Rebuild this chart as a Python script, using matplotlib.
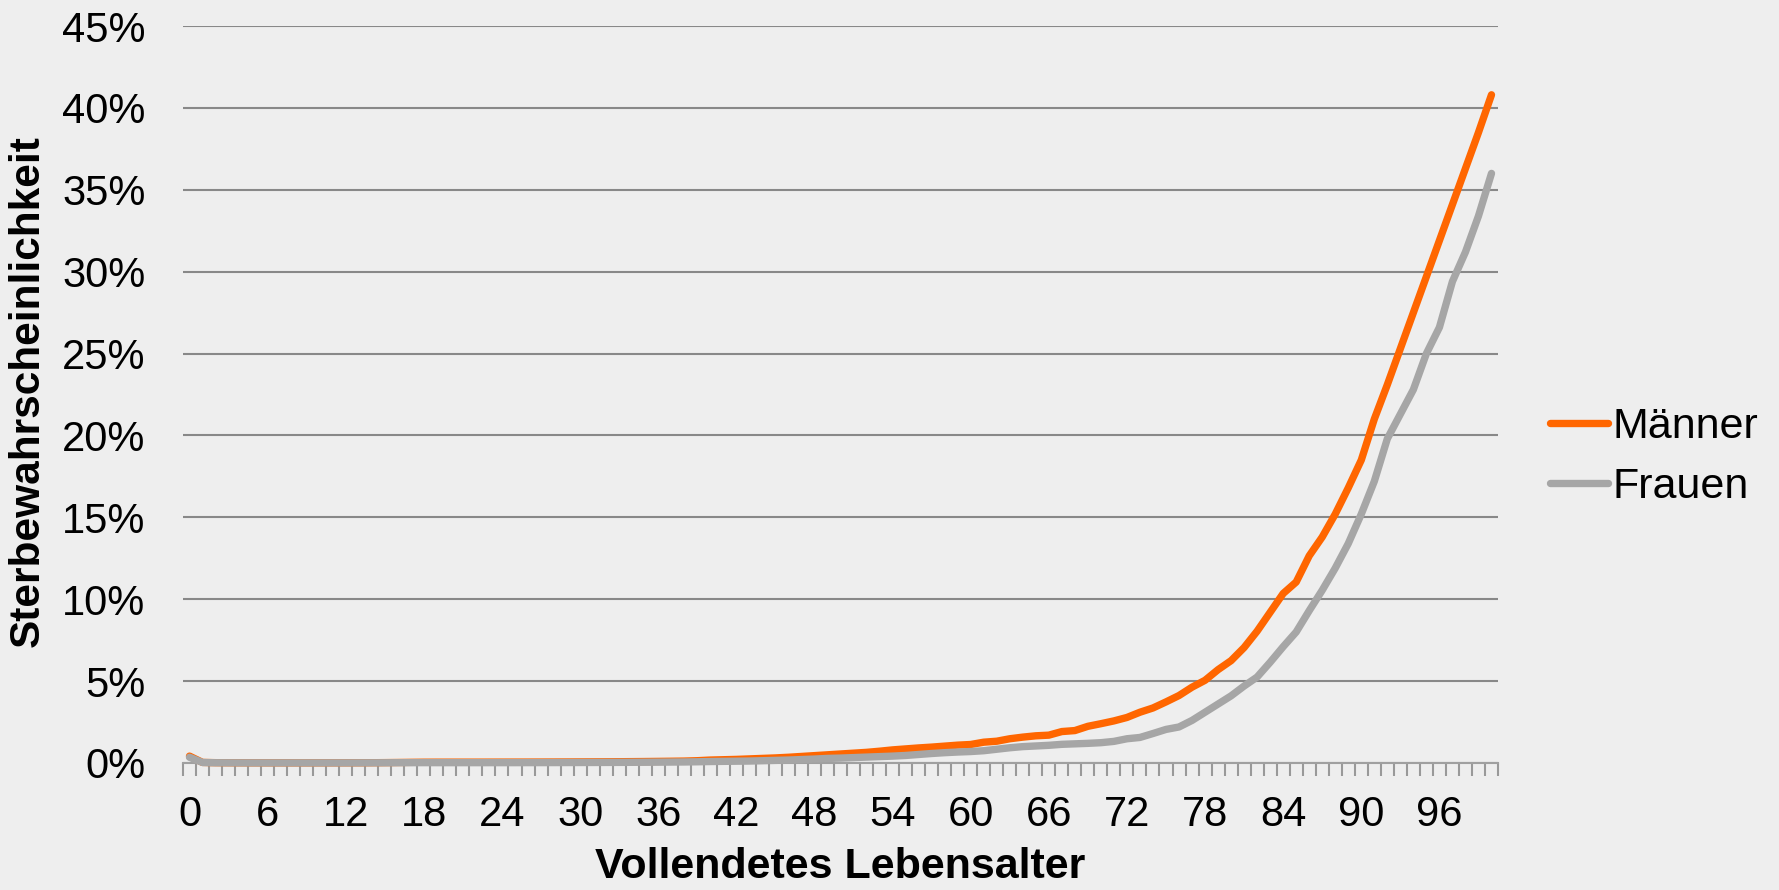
import numpy as np
import matplotlib
matplotlib.use("Agg")
import matplotlib.pyplot as plt
from matplotlib.ticker import FuncFormatter, FixedLocator

plt.rcParams['font.family'] = ['Liberation Sans', 'DejaVu Sans']

# ages 0..100, death probability in percent
ages = list(range(0, 101))
maenner = [
    0.42, 0.035, 0.020, 0.015, 0.012, 0.010, 0.009, 0.009, 0.008, 0.008,
    0.009, 0.010, 0.011, 0.013, 0.017, 0.023, 0.031, 0.040, 0.048, 0.050,
    0.051, 0.052, 0.052, 0.053, 0.054, 0.055, 0.056, 0.058, 0.060, 0.063,
    0.066, 0.069, 0.073, 0.078, 0.084, 0.090, 0.098, 0.107, 0.117, 0.140,
    0.18, 0.20, 0.22, 0.25, 0.28, 0.31, 0.35, 0.40, 0.45, 0.50,
    0.55, 0.60, 0.65, 0.72, 0.80, 0.86, 0.92, 0.97, 1.03, 1.09,
    1.13, 1.27, 1.33, 1.48, 1.58, 1.66, 1.70, 1.92, 1.98, 2.24,
    2.40, 2.57, 2.78, 3.10, 3.36, 3.73, 4.12, 4.63, 5.05, 5.70,
    6.25, 7.05, 8.05, 9.20, 10.35, 11.05, 12.65, 13.80, 15.20, 16.80,
    18.50, 21.00, 23.10, 25.30, 27.50, 29.70, 31.90, 34.10, 36.30, 38.50,
    40.80,
]
frauen = [
    0.35, 0.030, 0.016, 0.012, 0.009, 0.008, 0.007, 0.007, 0.007, 0.007,
    0.007, 0.008, 0.008, 0.010, 0.012, 0.015, 0.018, 0.020, 0.022, 0.021,
    0.021, 0.021, 0.021, 0.021, 0.022, 0.022, 0.023, 0.024, 0.026, 0.028,
    0.030, 0.032, 0.035, 0.038, 0.042, 0.046, 0.051, 0.057, 0.063, 0.075,
    0.09, 0.10, 0.11, 0.12, 0.14, 0.16, 0.18, 0.21, 0.24, 0.28,
    0.30, 0.33, 0.36, 0.39, 0.42, 0.46, 0.52, 0.58, 0.63, 0.67,
    0.70, 0.75, 0.84, 0.93, 1.00, 1.04, 1.08, 1.14, 1.17, 1.20,
    1.24, 1.32, 1.48, 1.56, 1.80, 2.05, 2.20, 2.60, 3.10, 3.60,
    4.10, 4.70, 5.25, 6.15, 7.10, 8.00, 9.30, 10.55, 11.90, 13.40,
    15.20, 17.20, 19.80, 21.30, 22.80, 25.00, 26.60, 29.40, 31.20, 33.40,
    36.00,
]
serien = ["Männer", "Frauen"]
farben = ["#FF6600", "#A6A6A6"]
x_labels = list(range(0, 97, 6))
y_ticks = [0, 5, 10, 15, 20, 25, 30, 35, 40, 45]

bg = "#EEEEEE"
fig = plt.figure(figsize=(17.79, 8.90), dpi=100, facecolor=bg)
ax = fig.add_axes([183 / 1779, 1 - 763 / 890, (1498 - 183) / 1779, (763 - 26) / 890])
ax.set_facecolor(bg)

y_m = np.array(maenner) / 100
y_f = np.array(frauen) / 100
for name, vals, col in zip(serien, [y_m, y_f], farben):
    ax.plot(ages, vals, color=col, lw=5.3, label=name,
            solid_capstyle='round', solid_joinstyle='round', clip_on=False, zorder=3)

ax.set_xlim(-0.5, 100.5)
ax.set_ylim(0, 0.45)

# grid
ax.set_yticks([v / 100 for v in y_ticks])
ax.yaxis.set_major_formatter(FuncFormatter(lambda v, p: f"{v * 100:.0f}%"))
ax.grid(axis='y', color="#888888", lw=1.5, zorder=1)
ax.tick_params(axis='y', length=0, pad=27, labelsize=30, labelcolor='black')

# x axis: category ticks between points, labels every 6
ax.xaxis.set_major_locator(FixedLocator(x_labels))
ax.xaxis.set_minor_locator(FixedLocator(np.arange(-0.5, 101, 1)))
ax.tick_params(axis='x', which='major', length=0, pad=23, labelsize=30)
ax.tick_params(axis='x', which='minor', length=9, width=1.5, color="#999999")

for s in ['top', 'right', 'left']:
    ax.spines[s].set_visible(False)
ax.spines['bottom'].set_color("#A0A0A0")
ax.spines['bottom'].set_linewidth(1.5)

ax.set_xlabel("Vollendetes Lebensalter", fontsize=31, fontweight='bold')
ax.xaxis.set_label_coords(0.5, -0.1405)
ax.xaxis.label.set_va('center')
ax.set_ylabel("Sterbewahrscheinlichkeit", fontsize=30.5, fontweight='bold')
ax.yaxis.set_label_coords(-0.118, 0.505)
ax.yaxis.label.set_va('center')

leg = fig.legend(loc='center left', bbox_to_anchor=(1550 / 1779, 1 - 457 / 890),
                 frameon=False, fontsize=31, handlelength=1.35, handletextpad=0.1,
                 labelspacing=0.45, borderpad=0, borderaxespad=0)

fig.savefig("out.png", dpi=100, facecolor=bg)
